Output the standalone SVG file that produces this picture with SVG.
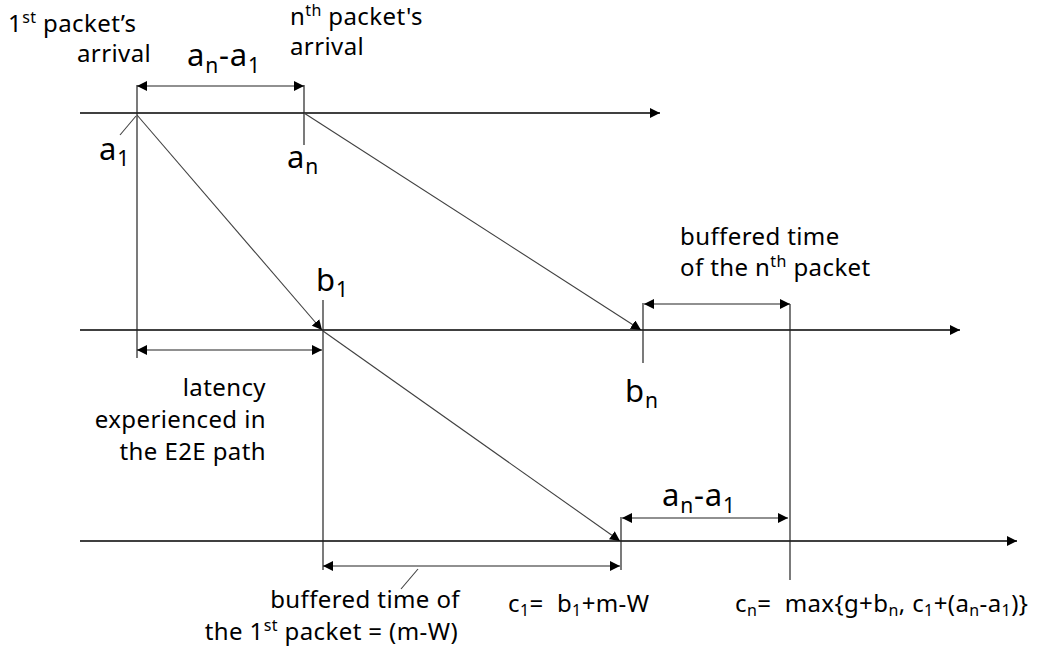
<svg xmlns="http://www.w3.org/2000/svg" width="1045" height="652" viewBox="0 0 1045 652">
<defs>
<marker id="ah" viewBox="0 0 10 10" refX="10" refY="5" markerWidth="10" markerHeight="10" markerUnits="userSpaceOnUse" orient="auto-start-reverse">
<path d="M0,0 L10,5 L0,10 Z" fill="#000"/>
</marker>
<style>
.ax{stroke:#000;stroke-width:1.3;fill:none}
.ln{stroke:#222;stroke-width:1.2;fill:none}
.dg{stroke:#404040;stroke-width:1.1;fill:none}
text{font-family:"Noto Sans","DejaVu Sans",sans-serif;fill:#000}
.t{font-size:24px;letter-spacing:0.4px}
.m{font-size:31px;letter-spacing:0.8px}
.s{font-size:16px}
.ms{font-size:21px}
</style>
</defs>
<rect width="1045" height="652" fill="#fff"/>
<g id="axes">
<line class="ax" x1="80" y1="113" x2="660" y2="113" marker-end="url(#ah)"/>
<line class="ax" x1="80" y1="330" x2="960" y2="330" marker-end="url(#ah)"/>
<line class="ax" x1="80" y1="541" x2="1017" y2="541" marker-end="url(#ah)"/>
</g>
<g id="connectors">
<line class="ln" x1="137" y1="85" x2="137" y2="358"/>
<line class="ln" x1="304" y1="85" x2="304" y2="145"/>
<line class="ln" x1="323" y1="300" x2="323" y2="570"/>
<line class="ln" x1="643" y1="303" x2="643" y2="363"/>
<line class="ln" x1="790" y1="304" x2="790" y2="580"/>
<line class="ln" x1="621" y1="517" x2="621" y2="570"/>
<line class="ln" x1="137" y1="86" x2="304" y2="86" marker-start="url(#ah)" marker-end="url(#ah)"/>
<line class="ln" x1="137" y1="350" x2="322" y2="350" marker-start="url(#ah)" marker-end="url(#ah)"/>
<line class="ln" x1="644" y1="304" x2="790" y2="304" marker-start="url(#ah)" marker-end="url(#ah)"/>
<line class="ln" x1="323" y1="566" x2="620" y2="566" marker-start="url(#ah)" marker-end="url(#ah)"/>
<line class="ln" x1="622" y1="518" x2="788" y2="518" marker-start="url(#ah)" marker-end="url(#ah)"/>
<line class="dg" x1="137" y1="115" x2="322" y2="330" marker-end="url(#ah)"/>
<line class="dg" x1="304" y1="113" x2="641" y2="330" marker-end="url(#ah)"/>
<line class="dg" x1="323" y1="331" x2="620" y2="541" marker-end="url(#ah)"/>
<line class="dg" x1="120" y1="135" x2="136" y2="116"/>
<line class="dg" x1="418" y1="569" x2="401" y2="589"/>
</g>
<g id="labels">
<text class="t" x="8" y="32">1<tspan class="s" dy="-9">st</tspan><tspan dy="9"> packet’s</tspan></text>
<text class="t" x="77" y="62">arrival</text>
<text class="m" x="187" y="66">a<tspan class="ms" dy="7">n</tspan><tspan dy="-7">-a</tspan><tspan class="ms" dy="7">1</tspan></text>
<text class="t" x="290" y="25">n<tspan class="s" dy="-9">th</tspan><tspan dy="9"> packet's</tspan></text>
<text class="t" x="290" y="55">arrival</text>
<text class="m" x="99" y="160">a<tspan class="ms" dy="6">1</tspan></text>
<text class="m" x="287" y="168">a<tspan class="ms" dy="6">n</tspan></text>
<text class="m" x="316" y="291">b<tspan class="ms" dy="6">1</tspan></text>
<text class="m" x="625" y="402">b<tspan class="ms" dy="6">n</tspan></text>
<text class="t" x="680" y="245">buffered time</text>
<text class="t" x="680" y="276">of the n<tspan class="s" dy="-9">th</tspan><tspan dy="9"> packet</tspan></text>
<text class="t" x="266" y="396" text-anchor="end">latency</text>
<text class="t" x="266" y="428" text-anchor="end">experienced in</text>
<text class="t" x="266" y="460" text-anchor="end">the E2E path</text>
<text class="m" x="662" y="506">a<tspan class="ms" dy="7">n</tspan><tspan dy="-7">-a</tspan><tspan class="ms" dy="7">1</tspan></text>
<text class="t" x="460" y="608" text-anchor="end">buffered time of</text>
<text class="t" x="458" y="640" text-anchor="end">the 1<tspan class="s" dy="-9">st</tspan><tspan dy="9"> packet = (m-W)</tspan></text>
<text class="t" x="508" y="612" style="white-space:pre">c<tspan class="s" dy="4">1</tspan><tspan dy="-4">=  b</tspan><tspan class="s" dy="4">1</tspan><tspan dy="-4">+m-W</tspan></text>
<text class="t" x="735" y="612" style="white-space:pre">c<tspan class="s" dy="4">n</tspan><tspan dy="-4">=  max{g+b</tspan><tspan class="s" dy="4">n</tspan><tspan dy="-4">, c</tspan><tspan class="s" dy="4">1</tspan><tspan dy="-4">+(a</tspan><tspan class="s" dy="4">n</tspan><tspan dy="-4">-a</tspan><tspan class="s" dy="4">1</tspan><tspan dy="-4">)}</tspan></text>
</g>
</svg>
